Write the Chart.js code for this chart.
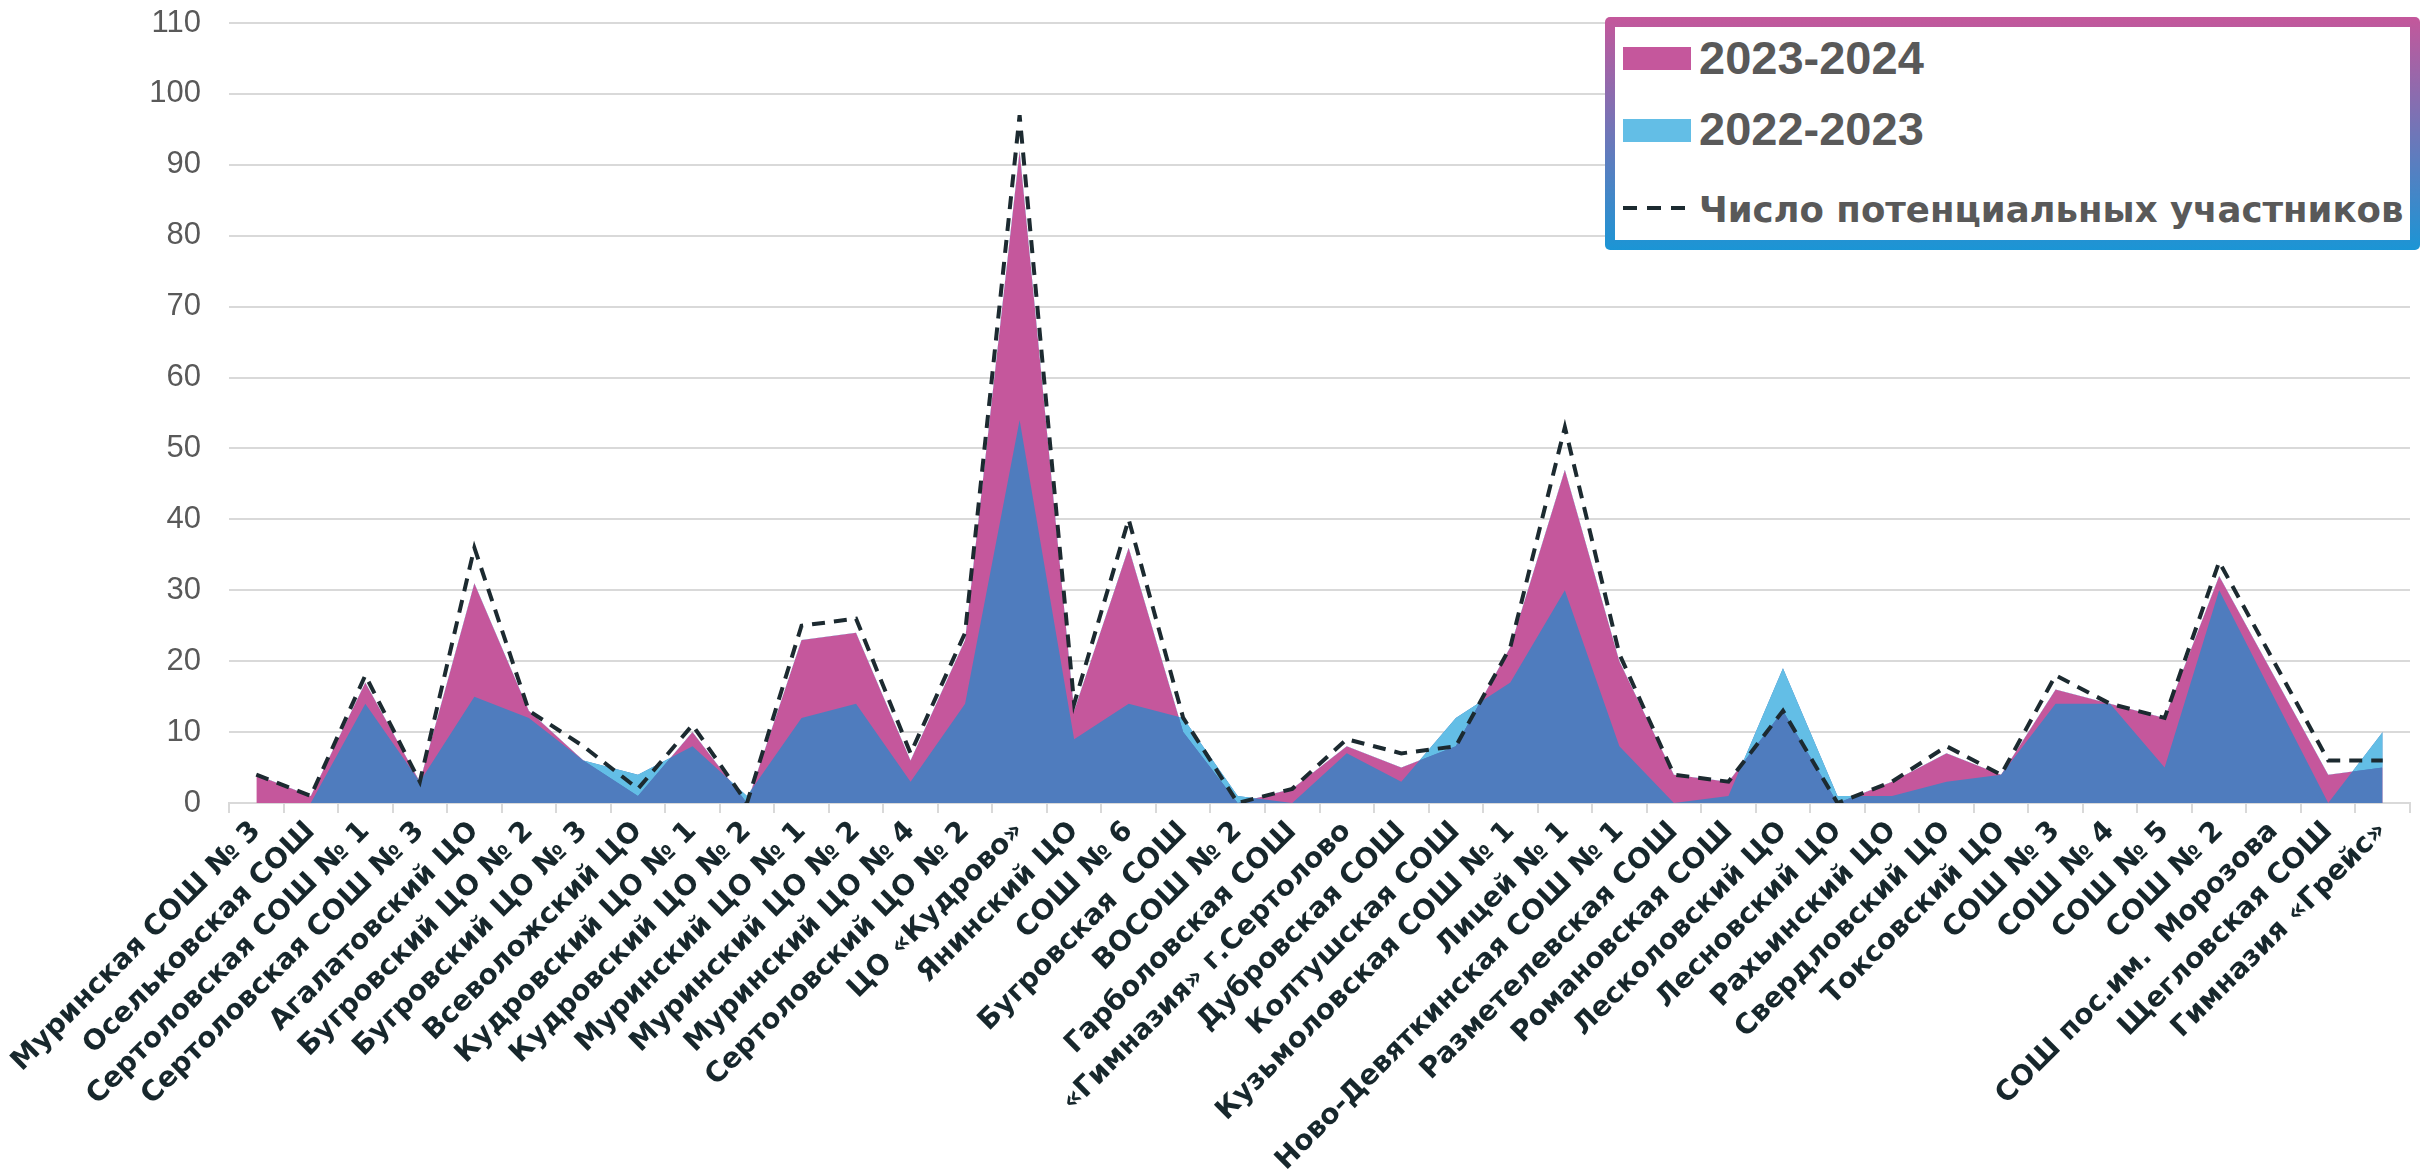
<!DOCTYPE html>
<html lang="ru">
<head>
<meta charset="utf-8">
<title>Участники</title>
<script src="https://cdn.jsdelivr.net/npm/chart.js@4.4.1/dist/chart.umd.min.js"></script>
<style>
    html, body { margin: 0; padding: 0; background: #ffffff; }
    #wrap { position: relative; width: 2428px; height: 1173px; }
    #legend {
        position: absolute; left: 1605px; top: 17px; width: 815px; height: 233px;
        padding: 10px; box-sizing: border-box; border-radius: 5px;
        background: linear-gradient(#c4579b, #1b95d5);
    }
    #legend .inner { position: relative; width: 100%; height: 100%; background: #ffffff; }
    #legend .sw { position: absolute; left: 8px; width: 68px; }
    #legend .txt { position: absolute; left: 84px; color: #595959; white-space: nowrap; font-weight: bold; }
    #legend .big { font-family: "Liberation Sans", Arial, sans-serif; font-size: 47px; line-height: 47px; }
    #legend .small { font-family: "DejaVu Sans", sans-serif; font-size: 35.5px; line-height: 35.5px; }
</style>
</head>
<body>
<div id="wrap">
    <canvas id="chart"></canvas>
    <div id="legend"><div class="inner">
        <div class="sw" style="top:20px;height:23px;background:#c5579c"></div>
        <div class="txt big" style="top:7px">2023-2024</div>
        <div class="sw" style="top:92px;height:23px;background:#63bee6"></div>
        <div class="txt big" style="top:78px">2022-2023</div>
        <div class="sw" style="top:179px;height:4px;background:repeating-linear-gradient(90deg,#1c2a30 0 14px,transparent 14px 24px)"></div>
        <div class="txt small" style="top:165px">Число потенциальных участников</div>
    </div></div>
</div>
<script>
const schools = [
    'Муринская СОШ № 3', 'Осельковская СОШ', 'Сертоловская СОШ № 1', 'Сертоловская СОШ № 3',
    'Агалатовский ЦО', 'Бугровский ЦО № 2', 'Бугровский ЦО № 3', 'Всеволожский ЦО',
    'Кудровский ЦО № 1', 'Кудровский ЦО № 2', 'Муринский ЦО № 1', 'Муринский ЦО № 2',
    'Муринский ЦО № 4', 'Сертоловский ЦО № 2', 'ЦО «Кудрово»', 'Янинский ЦО',
    'СОШ № 6', 'Бугровская  СОШ', 'ВОСОШ № 2', 'Гарболовская СОШ',
    '«Гимназия» г.Сертолово', 'Дубровская СОШ', 'Колтушская СОШ', 'Кузьмоловская СОШ № 1',
    'Лицей № 1', 'Ново-Девяткинская СОШ № 1', 'Разметелевская СОШ', 'Романовская СОШ',
    'Лесколовский ЦО', 'Лесновский ЦО', 'Рахьинский ЦО', 'Свердловский ЦО',
    'Токсовский ЦО', 'СОШ № 3', 'СОШ № 4', 'СОШ № 5',
    'СОШ № 2', 'СОШ пос.им.  Морозова', 'Щегловская СОШ', 'Гимназия «Грейс»'
];

// участники 2023-2024
const year2324 = [4, 1, 17, 3, 31, 13, 6, 1, 10, 0, 23, 24, 6, 23, 92, 13, 36, 10, 0, 2,
                  8, 5, 8, 22, 47, 20, 4, 3, 13, 0, 3, 7, 4, 16, 14, 12, 32, 18, 4, 5];
// участники 2022-2023
const year2223 = [0, 0, 14, 3, 15, 12, 6, 4, 8, 1, 12, 14, 3, 14, 54, 9, 14, 12, 1, 0,
                  7, 3, 12, 17, 30, 8, 0, 1, 19, 1, 1, 3, 4, 14, 14, 5, 30, 15, 0, 10];
// число потенциальных участников
const potential = [4, 1, 18, 3, 36, 13, 8, 2, 11, 0, 25, 26, 7, 24, 97, 14, 40, 12, 0, 2,
                   9, 7, 8, 22, 53, 21, 4, 3, 13, 0, 3, 8, 4, 18, 14, 12, 34, 20, 6, 6];

const yTicks = { min: 0, max: 110, step: 10 };

const colors = {
    pink: '#c5579c',
    lightBlue: '#63bee6',
    darkBlue: '#4f7cbe',
    dash: '#1c2a30',
    grid: '#d9d9d9',
    gridMinor: '#f0f0f0'
};

const ctx = document.getElementById('chart').getContext('2d');

const chart = new Chart(ctx, {
    type: 'line',
    data: {
        labels: schools,
        datasets: [
            {
                label: 'Число потенциальных участников',
                data: potential,
                borderColor: colors.dash,
                borderWidth: 4,
                borderDash: [13, 9],
                fill: false,
                order: 0
            },
            {
                // часть 2022-2023, выступающая над 2023-2024
                label: '2022-2023',
                data: year2223,
                borderWidth: 0,
                borderColor: 'rgba(0,0,0,0)',
                fill: { target: 3, above: colors.lightBlue, below: 'rgba(0,0,0,0)' },
                order: 1
            },
            {
                label: '2022-2023 (общая часть)',
                data: year2223,
                borderWidth: 0,
                borderColor: 'rgba(0,0,0,0)',
                fill: { target: 'origin', above: colors.darkBlue },
                order: 2
            },
            {
                label: '2023-2024',
                data: year2324,
                borderWidth: 0,
                borderColor: 'rgba(0,0,0,0)',
                fill: { target: 'origin', above: colors.pink },
                order: 3
            }
        ]
    },
    options: {
        responsive: true,
        maintainAspectRatio: false,
        animation: false,
        devicePixelRatio: 1,
        layout: { padding: { top: 23, right: 18, left: 0, bottom: 0 } },
        elements: {
            point: { radius: 0, hoverRadius: 0 },
            line: { tension: 0 }
        },
        plugins: {
            legend: { display: false },
            tooltip: { enabled: false }
        },
        scales: {
            x: {
                offset: true,
                grid: {
                    offset: true,
                    drawOnChartArea: false,
                    color: colors.grid,
                    lineWidth: 2,
                    tickLength: 10
                },
                border: { color: colors.grid, width: 2 },
                ticks: {
                    autoSkip: false,
                    minRotation: 45,
                    maxRotation: 45,
                    padding: 2,
                    color: '#17272c',
                    font: { family: 'DejaVu Sans', weight: 'bold', size: 28 }
                },
                afterFit: (scale) => { scale.height = 370; }
            },
            y: {
                min: yTicks.min,
                max: yTicks.max,
                border: { display: false },
                grid: {
                    drawTicks: false,
                    lineWidth: 2,
                    color: (c) => (c.tick && c.tick.value % yTicks.step === 0) ? colors.grid : colors.gridMinor
                },
                ticks: {
                    stepSize: yTicks.step / 2,
                    padding: 28,
                    color: '#595959',
                    font: { family: 'Liberation Sans', size: 31 },
                    callback: (v) => (v % yTicks.step === 0 ? v : '')
                },
                afterFit: (scale) => {
                    // ticks.padding is only meant as horizontal gap here
                    scale.width = 229;
                    scale.paddingTop = 18;
                    scale.paddingBottom = 0;
                }
            }
        }
    }
});
</script>
</body>
</html>
